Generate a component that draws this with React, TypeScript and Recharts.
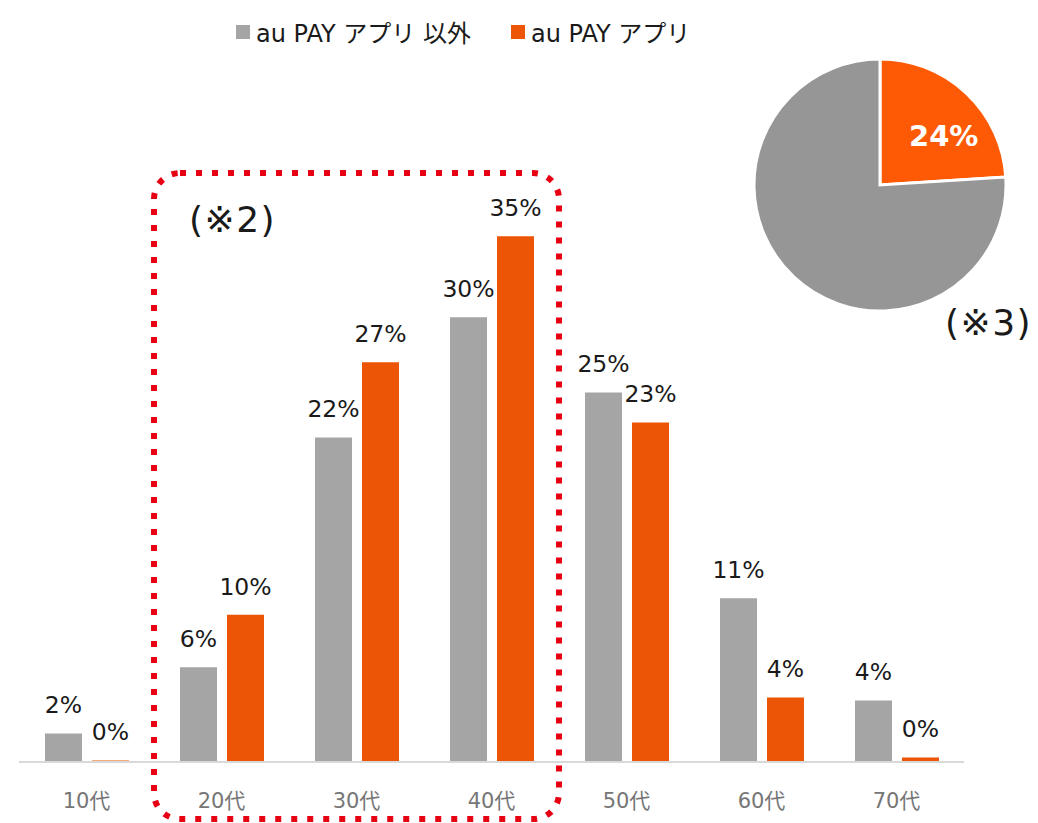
import React from 'react';
import { BarChart, Bar, XAxis, YAxis, LabelList, ReferenceArea, PieChart, Pie, Cell } from 'recharts';

// age groups and share of users per group (%)
const ageGroups = ['10代', '20代', '30代', '40代', '50代', '60代', '70代'];
const otherShare = [1.9, 6.3, 21.6, 29.6, 24.6, 10.9, 4.1];
const appShare = [0.1, 9.8, 26.6, 35.0, 22.6, 4.3, 0.3];

const seriesNames = ['au PAY アプリ 以外', 'au PAY アプリ'];
const barColors = ['#a5a5a5', '#eb5505'];

// overall share (pie)
const pieNames = ['au PAY アプリ', 'au PAY アプリ 以外'];
const pieValues = [24, 76];
const pieColors = ['#fe5a05', '#969696'];

const barData = ageGroups.map((age, i) => ({ age, other: otherShare[i], app: appShare[i] }));
const pieData = pieNames.map((name, i) => ({ name, value: pieValues[i] }));

const FONT = '"DejaVu Sans", "Noto Sans CJK JP", sans-serif';

const pct = (v: any) => `${Math.round(Number(v))}%`;

const renderPieLabel = (props: any) => {
  const { cx, cy, midAngle, outerRadius, index, value } = props;
  if (index !== 0) return null;
  const RAD = Math.PI / 180;
  const r = outerRadius * 0.64;
  const a = (midAngle - 9) * RAD;
  return (
    <text
      x={cx + r * Math.cos(a)}
      y={cy - r * Math.sin(a)}
      fill="#fff"
      fontSize={29}
      fontWeight="bold"
      textAnchor="middle"
      dominantBaseline="central"
    >
      {value}%
    </text>
  );
};

const DottedBox = (p: any) => (
  <rect
    x={p.x}
    y={p.y}
    width={p.width}
    height={p.height}
    rx={26}
    ry={26}
    fill="none"
    stroke="#e60012"
    strokeWidth={6}
    strokeDasharray="6 10"
  />
);

const noteStyle: React.CSSProperties = {
  position: 'absolute',
  fontSize: 36,
  letterSpacing: 1.5,
  color: '#1a1a1a',
  lineHeight: 1,
};

export default function App() {
  return (
    <div style={{ position: 'absolute', left: 0, top: 0, width: 1038, height: 823, background: '#fff', fontFamily: FONT }}>
      {/* legend */}
      <div style={{ position: 'absolute', left: 236, top: 14, display: 'flex', alignItems: 'center', fontSize: 24, color: '#1a1a1a' }}>
        {seriesNames.map((n, i) => (
          <div key={n} style={{ display: 'flex', alignItems: 'center', marginRight: i === 0 ? 40 : 0 }}>
            <span style={{ display: 'inline-block', width: 14, height: 14, background: barColors[i], marginRight: 6 }} />
            <span>{n}</span>
          </div>
        ))}
      </div>

      <BarChart
        width={1038}
        height={823}
        data={barData}
        margin={{ top: 161, right: 74, left: 19, bottom: 0 }}
        barCategoryGap={26}
        barGap={10}
      >
        <XAxis
          dataKey="age"
          height={61}
          axisLine={{ stroke: '#d9d9d9', strokeWidth: 2 }}
          tickLine={false}
          tickSize={0}
          tickMargin={31}
          tick={{ fill: '#767676', fontSize: 21 }}
        />
        <YAxis hide domain={[0, 40]} />
        <ReferenceArea x1="20代" x2="40代" y1={-3.8} y2={39.2} ifOverflow="visible" shape={DottedBox} />
        <Bar dataKey="other" name={seriesNames[0]} fill={barColors[0]} isAnimationActive={false}>
          <LabelList dataKey="other" position="top" offset={20} formatter={pct} fill="#1a1a1a" fontSize={23.5} />
        </Bar>
        <Bar dataKey="app" name={seriesNames[1]} fill={barColors[1]} isAnimationActive={false}>
          <LabelList dataKey="app" position="top" offset={20} formatter={pct} fill="#1a1a1a" fontSize={23.5} />
        </Bar>
      </BarChart>

      <div style={{ ...noteStyle, left: 189, top: 202 }}>(※2)</div>

      <div style={{ position: 'absolute', left: 740, top: 45 }}>
        <PieChart width={280} height={280} margin={{ top: 0, right: 0, bottom: 0, left: 0 }}>
          <Pie
            data={pieData}
            dataKey="value"
            cx={140}
            cy={140}
            outerRadius={126}
            startAngle={90}
            endAngle={-270}
            stroke="#fff"
            strokeWidth={3}
            label={renderPieLabel}
            labelLine={false}
            isAnimationActive={false}
          >
            {pieData.map((d, i) => (
              <Cell key={d.name} fill={pieColors[i]} />
            ))}
          </Pie>
        </PieChart>
      </div>

      <div style={{ ...noteStyle, left: 945, top: 305 }}>(※3)</div>
    </div>
  );
}
